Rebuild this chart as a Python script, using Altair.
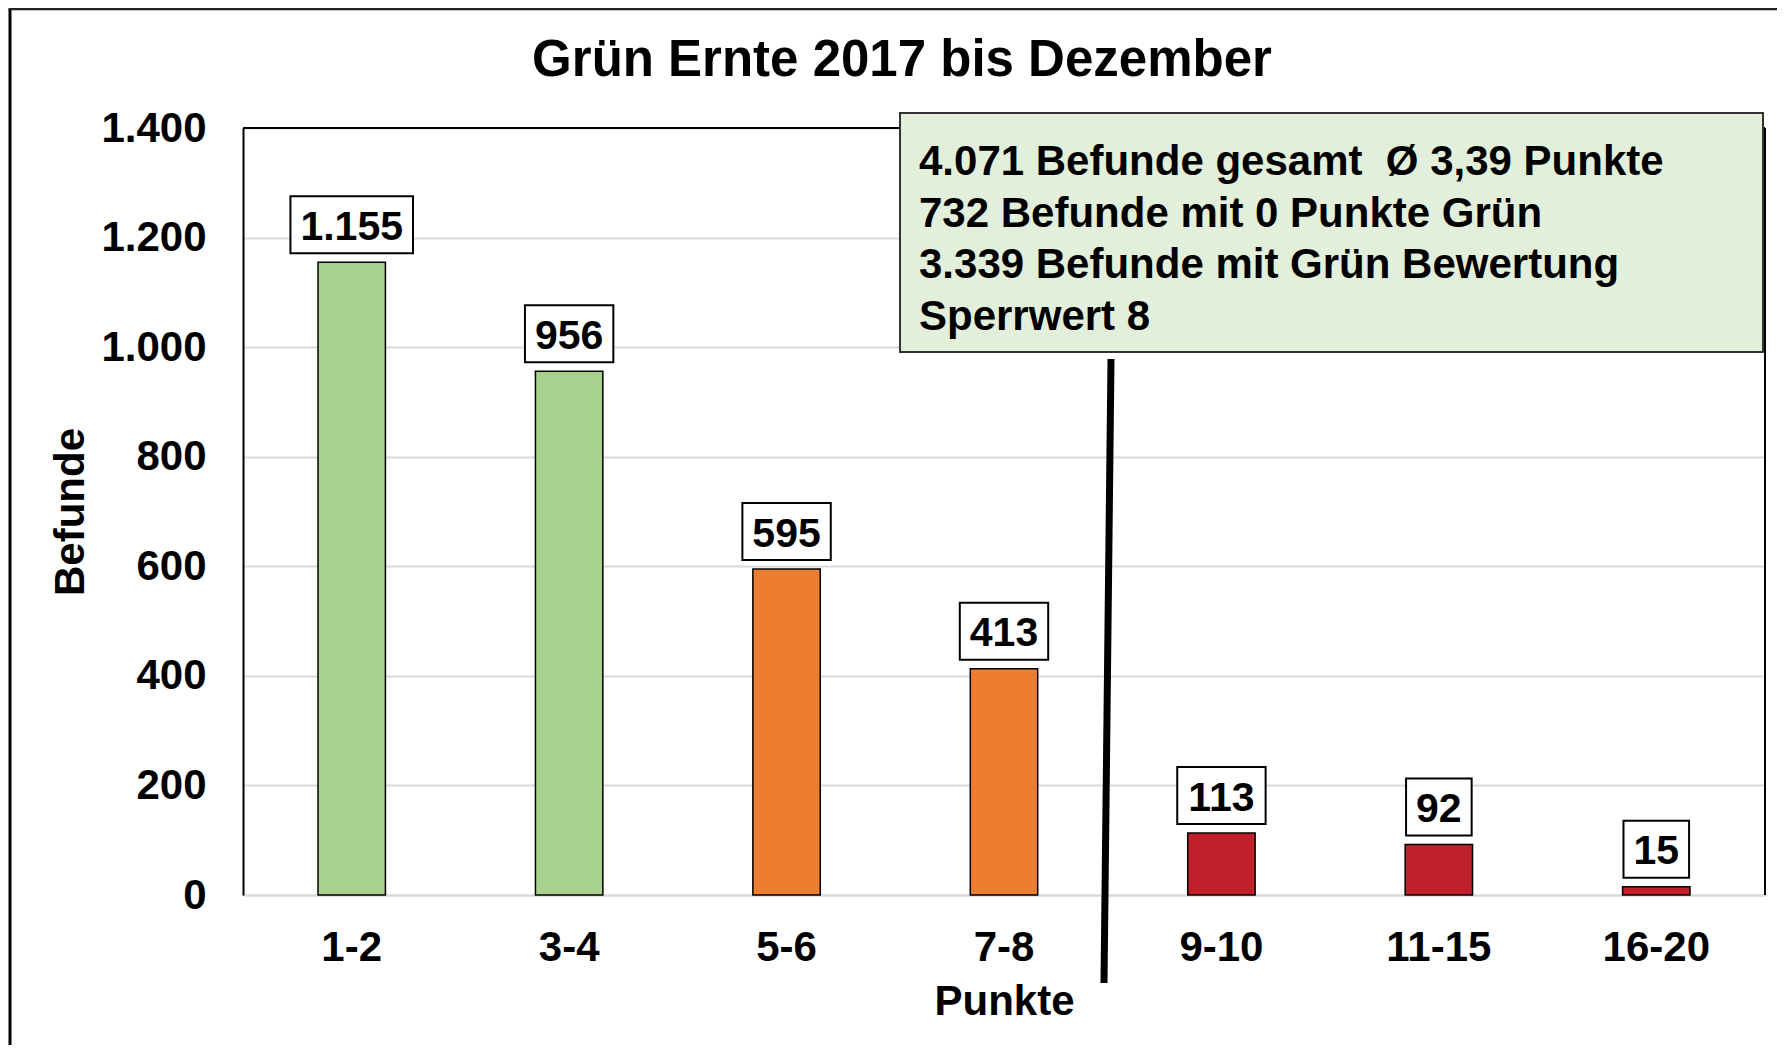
import altair as alt
import pandas as pd

# ---- data ----
categories = ["1-2", "3-4", "5-6", "7-8", "9-10", "11-15", "16-20"]
befunde = [1155, 956, 595, 413, 113, 92, 15]
groups = ["gruen", "gruen", "orange", "orange", "rot", "rot", "rot"]
y_ticks = [0, 200, 400, 600, 800, 1000, 1200, 1400]
title_text = "Grün Ernte 2017 bis Dezember"
info_lines = [
    "4.071 Befunde gesamt  Ø 3,39 Punkte",
    "732 Befunde mit 0 Punkte Grün",
    "3.339 Befunde mit Grün Bewertung",
    "Sperrwert 8",
]

FONT = "Liberation Sans, Arial, Helvetica, sans-serif"
LABEL_FS = 41
W, H = 1522, 767


def de_format(v):
    return f"{v:,}".replace(",", ".")


def text_width(s):
    widths = {".": 0.278, ",": 0.278}
    return sum(widths.get(c, 0.556) for c in s) * LABEL_FS


labels = [de_format(v) for v in befunde]
df = pd.DataFrame({
    "Punkte": categories,
    "Befunde": befunde,
    "Gruppe": groups,
    "Label": labels,
    "BoxW": [text_width(l) + 20 for l in labels],
})

x = alt.X(
    "Punkte:N",
    sort=categories,
    scale=alt.Scale(paddingInner=0.69, paddingOuter=0.345),
    axis=alt.Axis(
        title="Punkte", labelAngle=0, ticks=False, tickSize=0, labelPadding=32,
        domainColor="#D9D9D9", domainWidth=2, grid=False,
        titleX=W / 2, titleY=119, titleBaseline="alphabetic", titleAlign="center",
    ),
)
y = alt.Y(
    "Befunde:Q",
    scale=alt.Scale(domain=[0, 1400], nice=False),
    axis=alt.Axis(
        title="Befunde", values=y_ticks,
        labelExpr="replace(format(datum.value, ','), ',', '.')",
        ticks=False, tickSize=0, labelPadding=37,
        domainColor="black", domainWidth=2,
        grid=True, gridColor="#D9D9D9", gridWidth=2,
        titleAngle=-90, titleX=-160, titleY=H / 2,
        titleBaseline="alphabetic", titleAlign="center",
    ),
)

base = alt.Chart(df)

bars = base.mark_bar(stroke="black", strokeWidth=1.5).encode(
    x=x, y=y,
    color=alt.Color(
        "Gruppe:N",
        scale=alt.Scale(domain=["gruen", "orange", "rot"],
                        range=["#A9D18E", "#ED7D31", "#C0202A"]),
        legend=None,
    ),
)

boxes = base.mark_bar(fill="white", stroke="black", strokeWidth=2,
                      yOffset=-66, y2Offset=-9).encode(
    x=x, y=y, y2="Befunde:Q",
    size=alt.Size("BoxW:Q", scale=None, legend=None),
)

label_text = base.mark_text(
    font=FONT, fontSize=LABEL_FS, fontWeight="bold", color="black",
    baseline="alphabetic", yOffset=-22.5,
).encode(x=x, y=y, text="Label:N")

one = alt.Data(values=[{"k": 1}])

top_border = alt.Chart(one).mark_rule(color="black", strokeWidth=2).encode(
    x=alt.value(0), x2=alt.value(W), y=alt.value(0))
right_border = alt.Chart(one).mark_rule(color="black", strokeWidth=2).encode(
    x=alt.value(W), y=alt.value(0), y2=alt.value(H))

sperr_line = alt.Chart(one).mark_rule(color="black", strokeWidth=7).encode(
    x=alt.value(868), x2=alt.value(861), y=alt.value(231), y2=alt.value(855))

info_box = alt.Chart(one).mark_rect(fill="#E2EFDA", stroke="#333333", strokeWidth=2).encode(
    x=alt.value(657), x2=alt.value(1520), y=alt.value(-15), y2=alt.value(224))

# keep the double space visible in SVG (whitespace would collapse otherwise)
info_string = "\n".join(line.replace("  ", " \u00a0") for line in info_lines)
info_text = alt.Chart(one).mark_text(
    font=FONT, fontSize=42, fontWeight="bold", color="black",
    align="left", baseline="alphabetic", lineBreak="\n", lineHeight=51.5,
).encode(x=alt.value(676), y=alt.value(47), text=alt.value(info_string))

title = alt.Chart(one).mark_text(
    font=FONT, fontSize=51, fontWeight="bold", color="black",
    align="center", baseline="alphabetic",
).encode(x=alt.value(659), y=alt.value(-52), text=alt.value(title_text))

outer_left = alt.Chart(one).mark_rule(color="black", strokeWidth=3).encode(
    x=alt.value(-233), y=alt.value(-119), y2=alt.value(H + 150))
outer_top = alt.Chart(one).mark_rule(color="#222222", strokeWidth=2.5).encode(
    x=alt.value(-234.5), x2=alt.value(W + 12), y=alt.value(-119))

chart = alt.layer(
    bars, boxes, label_text, top_border, right_border, sperr_line,
    info_box, info_text, title, outer_left, outer_top,
).properties(
    width=W, height=H,
    autosize=alt.AutoSizeParams(type="none"),
    padding={"left": 235, "top": 120, "right": 12, "bottom": 150},
    background="white",
).configure_view(stroke=None).configure_axis(
    labelFont=FONT, labelFontSize=42, labelFontWeight="bold", labelColor="black",
    titleFont=FONT, titleFontSize=42, titleFontWeight="bold", titleColor="black",
)

chart.save("out.html", embed_options={"renderer": "svg", "actions": False})
